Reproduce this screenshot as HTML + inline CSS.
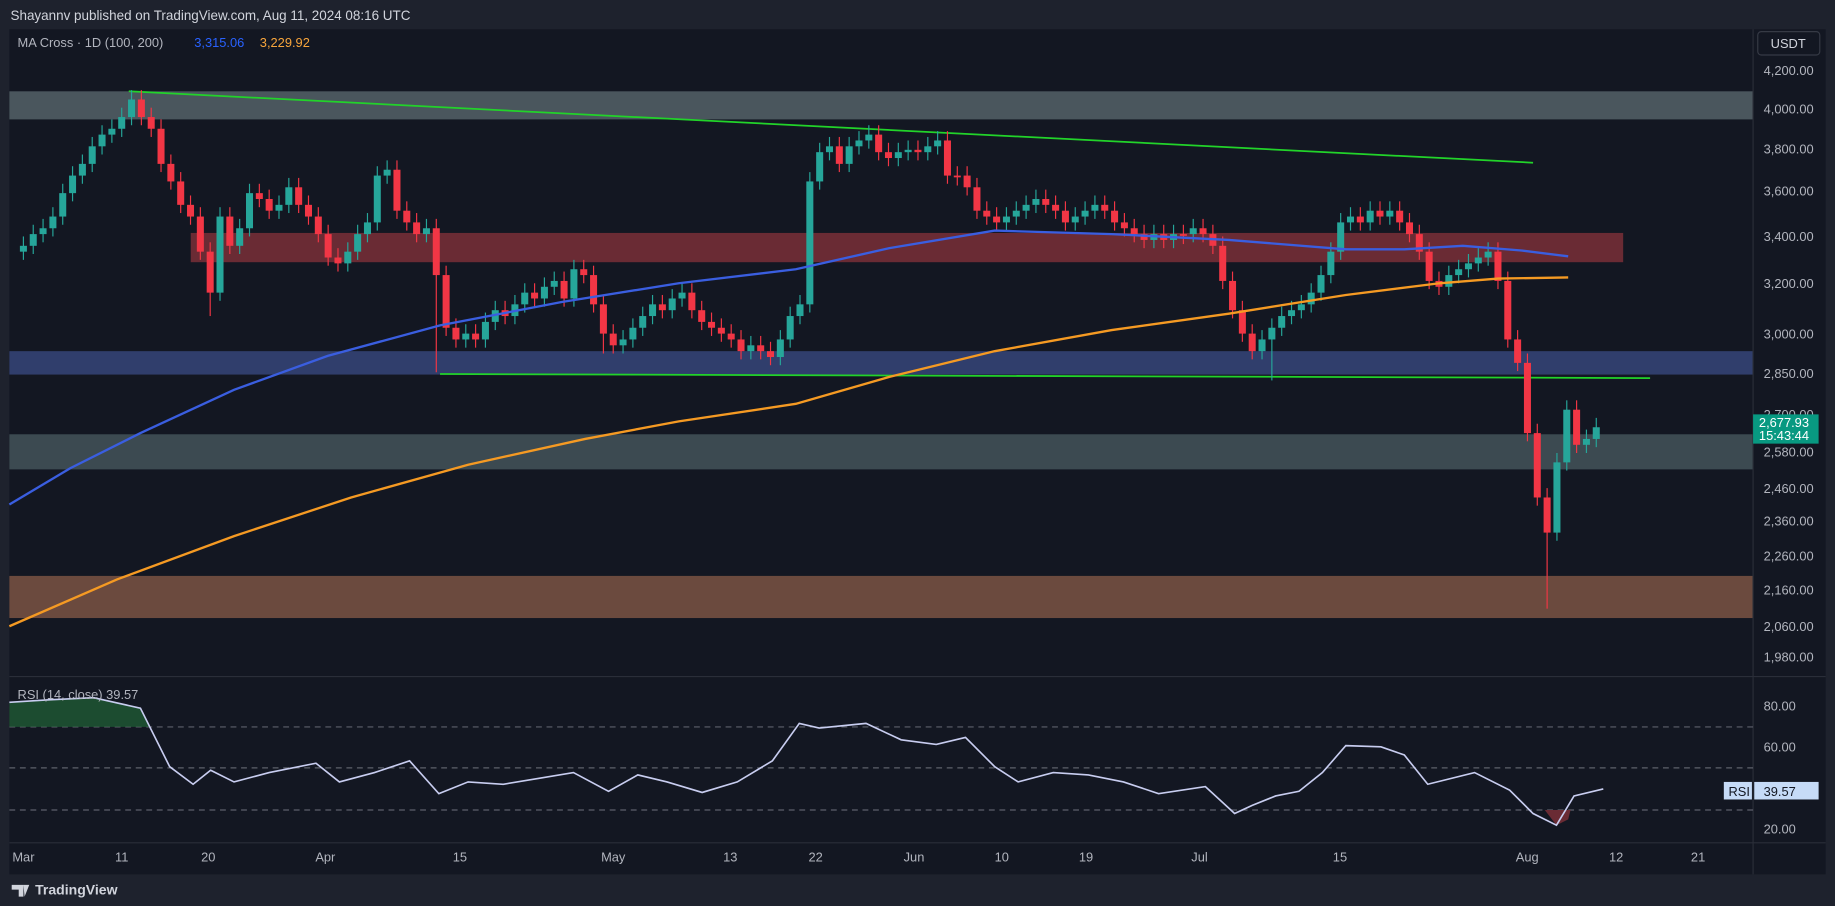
<!DOCTYPE html>
<html><head><meta charset="utf-8"><style>
html,body{margin:0;padding:0;background:#1e222d;}
svg{display:block}
text{font-family:"Liberation Sans",sans-serif;}
</style></head><body>
<svg id="s" width="1835" height="906" viewBox="0 0 1568 774" preserveAspectRatio="none" xmlns="http://www.w3.org/2000/svg">
<rect width="1568" height="774" fill="#1e222d"/>
<text x="9" y="17" fill="#d1d4dc" font-size="11.5">Shayannv published on TradingView.com, Aug 11, 2024 08:16 UTC</text>
<rect x="8" y="25" width="1552" height="722" fill="#131722"/>
<rect x="8" y="78" width="1490" height="24" fill="#4a565d"/>
<rect x="163" y="199" width="1224" height="25" fill="#6a2b34"/>
<rect x="8" y="300" width="1490" height="20" fill="#303e6c"/>
<rect x="8" y="371" width="1490" height="30" fill="#3c4a51"/>
<rect x="8" y="492" width="1490" height="36" fill="#6b4a3e"/>
<line x1="110" y1="78" x2="1310" y2="139" stroke="#22d32a" stroke-width="1.5"/>
<line x1="376" y1="319.5" x2="1410" y2="323" stroke="#22d32a" stroke-width="1.5"/>
<g id="candles"></g>
<polyline fill="none" stroke="#3a5ee0" stroke-width="2" points="8,431 60,400 120,370 200,333 280,304 376,278 480,258 580,242 680,230 760,212 850,197 950,200 1050,205 1150,213 1200,213 1250,210 1300,214 1340,219"/>
<polyline fill="none" stroke="#f59a23" stroke-width="2" points="8,535 100,495 200,458 300,425 400,397 500,375 580,360 680,345 760,322 850,300 950,282 1050,268 1150,252 1230,242 1280,238 1340,237"/>
<text x="15" y="40" fill="#b2b5be" font-size="11">MA Cross · 1D (100, 200)</text>
<text x="166" y="40" fill="#2962ff" font-size="11">3,315.06</text>
<text x="222" y="40" fill="#f7a53c" font-size="11">3,229.92</text>
<line x1="1498" y1="25" x2="1498" y2="747" stroke="#2a2e39"/>
<line x1="8" y1="578" x2="1560" y2="578" stroke="#2a2e39"/>
<line x1="8" y1="720" x2="1560" y2="720" stroke="#2a2e39"/>
<rect x="1502" y="27" width="53" height="20" rx="3" fill="#131722" stroke="#363a45"/>
<text x="1528" y="41" fill="#d1d4dc" font-size="11" text-anchor="middle">USDT</text>
<g fill="#b2b5be" font-size="11">
<text x="1507" y="64">4,200.00</text><text x="1507" y="97">4,000.00</text><text x="1507" y="131">3,800.00</text>
<text x="1507" y="167">3,600.00</text><text x="1507" y="206">3,400.00</text><text x="1507" y="246">3,200.00</text>
<text x="1507" y="289">3,000.00</text><text x="1507" y="323">2,850.00</text><text x="1507" y="358">2,700.00</text>
<text x="1507" y="390">2,580.00</text><text x="1507" y="421">2,460.00</text><text x="1507" y="449">2,360.00</text>
<text x="1507" y="479">2,260.00</text><text x="1507" y="508">2,160.00</text><text x="1507" y="539">2,060.00</text>
<text x="1507" y="565">1,980.00</text>
<text x="1507" y="607">80.00</text><text x="1507" y="642">60.00</text><text x="1507" y="712">20.00</text>
</g>
<rect x="1498" y="354" width="56" height="25" fill="#089981"/>
<text x="1503" y="365" fill="#fff" font-size="11">2,677.93</text>
<text x="1503" y="376" fill="#fff" font-size="11">15:43:44</text>
<g stroke="#5d606b" stroke-dasharray="5,4" stroke-width="1">
<line x1="8" y1="621" x2="1498" y2="621"/><line x1="8" y1="656" x2="1498" y2="656"/><line x1="8" y1="692" x2="1498" y2="692"/></g>
<path d="M8,621 L8,600 40,598 80,596 120,605 128,621 Z" fill="#1f5a35" opacity="0.8"/>
<path d="M1320,692 L1330,705 1340,700 1342,692 Z" fill="#6a2b34"/>
<polyline fill="none" stroke="#c8cdf0" stroke-width="1.4" points="8,600 40,598 80,596 120,605 145,655 165,670 180,658 200,668 230,660 270,652 290,668 320,660 350,650 375,678 400,668 430,670 460,665 490,660 520,676 545,662 570,668 600,677 630,668 660,650 683,618 700,622 740,618 770,632 800,636 825,630 850,655 870,668 900,660 930,662 960,668 990,678 1030,672 1055,695 1070,688 1090,680 1110,676 1130,660 1150,637 1180,638 1200,645 1220,670 1260,660 1290,675 1310,695 1330,705 1345,680 1370,674"/>
<text x="15" y="597" fill="#b2b5be" font-size="11">RSI (14, close)  39.57</text>
<rect x="1473" y="668" width="24" height="15" fill="#c6dbf7"/>
<rect x="1499" y="668" width="55" height="15" fill="#c6dbf7"/>
<text x="1477" y="680" fill="#131722" font-size="11">RSI</text>
<text x="1507" y="680" fill="#131722" font-size="11">39.57</text>
<g fill="#b2b5be" font-size="11" text-anchor="middle">
<text x="20" y="736">Mar</text><text x="104" y="736">11</text><text x="178" y="736">20</text><text x="278" y="736">Apr</text>
<text x="393" y="736">15</text><text x="524" y="736">May</text><text x="624" y="736">13</text><text x="697" y="736">22</text>
<text x="781" y="736">Jun</text><text x="856" y="736">10</text><text x="928" y="736">19</text><text x="1025" y="736">Jul</text>
<text x="1145" y="736">15</text><text x="1305" y="736">Aug</text><text x="1381" y="736">12</text><text x="1451" y="736">21</text>
</g>
<text x="30" y="764" fill="#d1d4dc" font-size="12" font-weight="bold">TradingView</text>
<path d="M10,756 h10 v10 h-4 v-6 h-6z M20,756 h5 l-4,10 z" fill="#d1d4dc"/>
</svg>
<script>
(function(){
var c=[210,200,195,185,165,150,140,125,115,110,100,85,100,110,140,155,175,185,215,250,185,210,195,165,170,180,175,160,175,185,200,220,225,215,200,190,150,145,180,190,200,195,235,280,290,285,290,275,265,270,260,250,255,245,240,255,230,235,260,285,295,290,280,270,260,265,255,250,265,275,280,285,290,300,295,300,305,290,270,260,155,130,125,140,125,120,115,130,135,130,128,130,125,120,150,150,160,180,185,190,185,180,175,170,175,180,190,185,180,175,180,190,195,200,205,200,205,200,200,195,200,210,240,265,285,300,290,280,270,265,260,250,235,215,190,185,190,180,185,180,190,200,215,240,245,235,230,225,220,215,240,290,310,370,425,455,395,350,380,375,365];
var lowX={19:270,42:318,59:302,127:325,155:520};
var g=document.getElementById('candles'),NS='http://www.w3.org/2000/svg',p=c[0]+5;
function el(n,a){var e=document.createElementNS(NS,n);for(var k in a)e.setAttribute(k,a[k]);g.appendChild(e);}
for(var i=0;i!==c.length;i++){var x=20+i*8.4,o=p,cl=c[i],col=(cl>=o)?'#f23645':'#26a69a';
var t=Math.min(o,cl),b=Math.max(o,cl);if(b-t<1.5)b=t+1.5;
var lo=(lowX[i]!==undefined)?lowX[i]:b+7;
el('line',{x1:x,x2:x,y1:t-8,y2:lo,stroke:col});
el('rect',{x:x-3,y:t,width:6,height:b-t,fill:col});p=cl;}
})();
</script>
</body></html>
